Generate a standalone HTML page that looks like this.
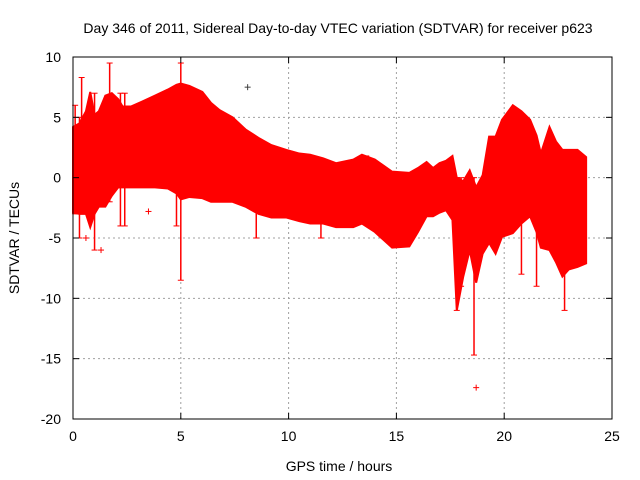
<!DOCTYPE html>
<html><head><meta charset="utf-8"><style>
body{margin:0;background:#fff}
svg{display:block;font-family:"Liberation Sans",sans-serif}
</style></head><body>
<svg id="chart" width="640" height="480">
<rect width="640" height="480" fill="#fff"/>
<text x="338" y="33" font-size="14" text-anchor="middle">Day 346 of 2011, Sidereal Day-to-day VTEC variation (SDTVAR) for receiver p623</text>
<text x="339" y="471" font-size="14" text-anchor="middle">GPS time / hours</text>
<text transform="translate(19,238) rotate(-90)" font-size="14" text-anchor="middle">SDTVAR / TECUs</text>
<g id="grid"></g><g id="data"></g><g id="axes"></g>
</svg>
<script>
const hours=[0,0.3,0.6,0.8,1.0,1.2,1.5,1.8,2.1,2.3,2.7,3.2,3.8,4.4,4.8,5.0,5.4,6.0,6.4,6.8,7.4,8.0,8.6,9.2,9.9,10.5,11.0,11.6,12.2,13.0,13.4,14.0,14.8,15.6,16.0,16.4,16.7,17.0,17.3,17.6,17.8,18.1,18.4,18.7,19.0,19.3,19.6,19.9,20.4,20.8,21.2,21.5,21.7,22.1,22.4,22.7,23.0,23.4,23.8];
const upper=[4.2,4.5,5.5,7.1,5.2,5.5,6.8,7.0,6.5,5.9,5.9,6.3,6.8,7.3,7.7,7.8,7.6,7.1,6.2,5.6,5.0,4.0,3.3,2.7,2.3,2.0,1.9,1.6,1.2,1.5,1.9,1.5,0.5,0.4,0.8,1.3,0.8,1.2,1.4,1.8,0.0,-0.3,0.6,-0.8,0.2,3.4,3.4,4.8,6.0,5.5,4.8,3.5,2.0,4.2,3.0,2.3,2.3,2.3,1.7];
const lower=[-2.9,-3.0,-3.0,-4.1,-3.0,-2.4,-2.4,-1.5,-0.8,-0.8,-0.8,-0.8,-0.8,-0.9,-1.3,-1.8,-1.6,-1.7,-2.0,-2.0,-2.0,-2.4,-3.0,-3.3,-3.3,-3.6,-3.8,-3.8,-4.1,-4.1,-3.8,-4.5,-5.8,-5.7,-4.5,-3.2,-3.2,-2.9,-2.7,-3.5,-11.0,-8.2,-6.0,-8.7,-6.3,-5.4,-6.3,-4.9,-4.6,-3.8,-3.2,-4.5,-5.8,-6.0,-7.0,-8.2,-7.6,-7.4,-7.1];
const spikeHours=[0.3,0.4,1.0,1.7,2.2,4.8,5.0,8.5,11.5,17.8,18,18.6,20.8,21.5,22.8,0.1,2.4,13.6];
const spikeLow=[-5,0,-6,-2,-4,-4,-8.5,-5,-5,-11,-9,-14.7,-8,-9,-11,-3,-4,-3];
const spikeHigh=[5,8.3,7,9.5,7,0,9.5,0,0,0,0,0,0,0,0,6,7,1.8];
const ptHours=[18.7,8.1,3.5,0.6,1.3];
const ptVals=[-17.4,7.5,-2.8,-5.0,-6.0];
const xTicks=[0,5,10,15,20,25];
const yTicks=[10,5,0,-5,-10,-15,-20];
const X0=73,X1=612,Y0=57,Y1=419;
const sx=h=>X0+(h/25)*(X1-X0);
const sy=v=>Y0+(10-v)/30*(Y1-Y0);
const NS="http://www.w3.org/2000/svg";
function mk(tag,attrs,parent){const e=document.createElementNS(NS,tag);for(const k in attrs)e.setAttribute(k,attrs[k]);parent.appendChild(e);return e;}
const grid=document.getElementById('grid'),data=document.getElementById('data'),axes=document.getElementById('axes');
xTicks.forEach(t=>{
 if(t>0&&t<25){const g=mk('line',{x1:sx(t),x2:sx(t),y1:Y0,y2:Y1,stroke:'#a0a0a0','stroke-dasharray':'2,3'},grid);
 
 }
 const l=mk('text',{x:sx(t),y:Y1+22,'font-size':14,'text-anchor':'middle'},axes);l.textContent=t;
 
 
 mk('line',{x1:sx(t),x2:sx(t),y1:Y1,y2:Y1-6,stroke:'#000'},axes);
 mk('line',{x1:sx(t),x2:sx(t),y1:Y0,y2:Y0+6,stroke:'#000'},axes);
});
yTicks.forEach(t=>{
 if(t<10&&t>-20){const g=mk('line',{x1:X0,x2:X1,y1:sy(t),y2:sy(t),stroke:'#a0a0a0','stroke-dasharray':'2,3'},grid);
 
 }
 const l=mk('text',{x:X0-12,y:sy(t)+5,'font-size':14,'text-anchor':'end'},axes);l.textContent=t;
 
 
 mk('line',{x1:X0,x2:X0+6,y1:sy(t),y2:sy(t),stroke:'#000'},axes);
 mk('line',{x1:X1,x2:X1-6,y1:sy(t),y2:sy(t),stroke:'#000'},axes);
});
const frame=mk('rect',{x:X0,y:Y0,width:X1-X0,height:Y1-Y0,fill:'none',stroke:'#000'},axes);


let d='M'+hours.map((h,i)=>sx(h)+','+sy(upper[i])).join('L');
for(let i=hours.length-1;i>=0;i--)d+='L'+sx(hours[i])+','+sy(lower[i]);
const band=mk('path',{d:d+'Z',fill:'#ff0000',stroke:'#ff0000','stroke-width':2},data);


spikeHours.forEach((h,i)=>{
 const s=mk('line',{x1:sx(h),x2:sx(h),y1:sy(spikeLow[i]),y2:sy(spikeHigh[i]),stroke:'#ff0000','stroke-width':1.5},data);
 
 
 mk('line',{x1:sx(h)-3,x2:sx(h)+3,y1:sy(spikeLow[i]),y2:sy(spikeLow[i]),stroke:'#ff0000'},data);
 mk('line',{x1:sx(h)-3,x2:sx(h)+3,y1:sy(spikeHigh[i]),y2:sy(spikeHigh[i]),stroke:'#ff0000'},data);
});
ptHours.forEach((h,i)=>{
 const g=mk('g',{},data);
 
 
 const c=i==1?'#404040':'#ff0000';
 mk('line',{x1:sx(h)-3,x2:sx(h)+3,y1:sy(ptVals[i]),y2:sy(ptVals[i]),stroke:c},g);
 mk('line',{x1:sx(h),x2:sx(h),y1:sy(ptVals[i])-3,y2:sy(ptVals[i])+3,stroke:c},g);
});
</script>
</body></html>
